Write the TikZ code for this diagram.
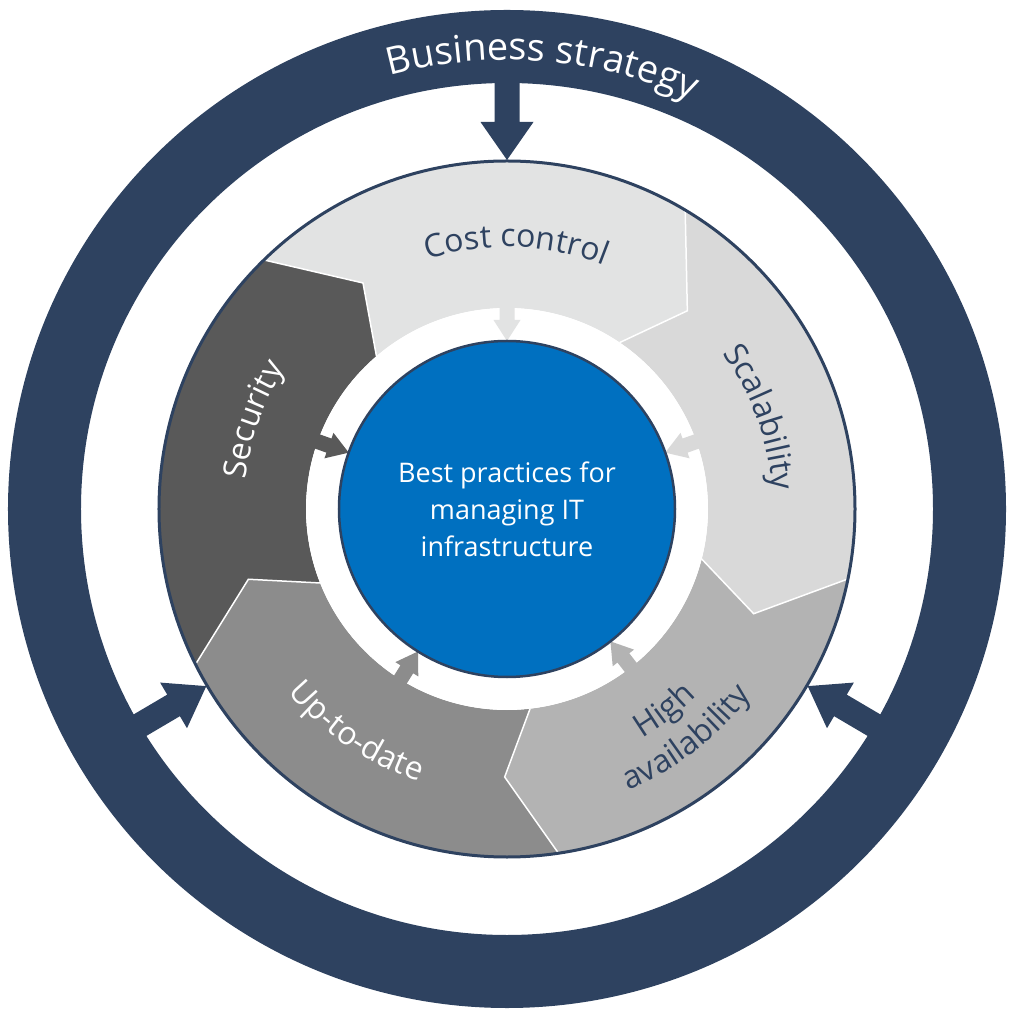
\documentclass[tikz,border=0pt]{standalone}
\usepackage{fontspec}
\setmainfont{Open Sans}
\usetikzlibrary{decorations.text}
\definecolor{navy}{HTML}{2E4260}
\definecolor{blueC}{HTML}{0070C0}
\definecolor{segA}{HTML}{E2E3E3}
\definecolor{segB}{HTML}{D9D9D9}
\definecolor{segC}{HTML}{B3B3B3}
\definecolor{segD}{HTML}{8C8C8C}
\definecolor{segE}{HTML}{595959}
\newcommand{\lblfont}{\fontsize{32}{32}\selectfont}
\newcommand{\titlefont}{\fontsize{38}{38}\selectfont}
\tikzset{
  seglabel/.style={decorate, decoration={text along path, text align=center, text={#1}}},
  bigarrow/.style={fill=navy},
  segline/.style={draw=white, line width=1.5pt},
}
\begin{document}
\begin{tikzpicture}[x=1pt,y=1pt]
\useasboundingbox (-507,-515) rectangle (506,509);
% outer strategy ring
\fill[navy,even odd rule] (0,0) circle[radius=499] (0,0) circle[radius=426];
% segments
\fill[segA] (134.3:348) arc[start angle=134.3,end angle=59.2,radius=348] -- (47.7:268) -- (55.9:201) arc[start angle=55.9,end angle=130.5,radius=201] -- (122.5:268) -- cycle;
\fill[segB] (59.2:348) arc[start angle=59.2,end angle=-11.6,radius=348] -- (-23:268) -- (-14.4:201) arc[start angle=-14.4,end angle=55.9,radius=201] -- (47.7:268) -- cycle;
\fill[segC] (-11.6:348) arc[start angle=-11.6,end angle=-81.5,radius=348] -- (-90.5:268) -- (-83.4:201) arc[start angle=-83.4,end angle=-14.4,radius=201] -- (-23:268) -- cycle;
\fill[segD] (-81.5:348) arc[start angle=-81.5,end angle=-153.5,radius=348] -- (-164.8:268) -- (-158.4:201) arc[start angle=-158.4,end angle=-83.4,radius=201] -- (-90.5:268) -- cycle;
\fill[segE] (206.5:348) arc[start angle=206.5,end angle=134.3,radius=348] -- (122.5:268) -- (130.5:201) arc[start angle=130.5,end angle=201.6,radius=201] -- (195.2:268) -- cycle;
% segment boundaries
\draw[segline] (134.3:348) -- (122.5:268) -- (130.5:201);
\draw[segline] (59.2:348) -- (47.7:268) -- (55.9:201);
\draw[segline] (-11.6:348) -- (-23:268) -- (-14.4:201);
\draw[segline] (-81.5:348) -- (-90.5:268) -- (-83.4:201);
\draw[segline] (206.5:348) -- (195.2:268) -- (201.6:201);
\draw[navy, line width=3pt] (0,0) circle[radius=348];
% white ring round the core
\fill[white] (0,0) circle[radius=201];
% small arrows into the core
\foreach \a/\c in {90/segA, 19.6/segB, -52/segC, -122/segD, 160.4/segE}{
  \fill[\c, rotate=\a] (168,0) -- (189,13.5) -- (189,7.5) -- (214,7.5) -- (214,-7.5) -- (189,-7.5) -- (189,-13.5) -- cycle;
}
% core
\node[name=core, circle, minimum size=336pt, fill=blueC, draw=navy, line width=2.5pt, inner sep=0pt] at (0,0) {};
\node[name=coretext, align=center, text=white, font=\fontsize{27}{37}\selectfont] at (0,0) {Best practices for\\managing IT\\infrastructure};
% big arrows from strategy ring
\foreach \a in {90, 210.5, -30.5}{
  \fill[bigarrow, rotate=\a] (349,0) -- (387,26.5) -- (387,12.5) -- (440,12.5) -- (440,-12.5) -- (387,-12.5) -- (387,-26.5) -- cycle;
}
% labels
\path[seglabel={|\color{white}\titlefont|Business strategy}] (125.4:449) arc[start angle=125.4,end angle=45.4,radius=449];
\path[seglabel={|\color{navy}\lblfont|Cost control}] (128:262) arc[start angle=128,end angle=48,radius=262];
\path[seglabel={|\color{navy}\lblfont|Scalability}] (59.9:266) arc[start angle=59.9,end angle=-20.1,radius=266];
\path[seglabel={|\color{white}\lblfont|Security}] (200.6:263) arc[start angle=200.6,end angle=120.6,radius=263];
\path[seglabel={|\color{white}\lblfont|Up-to-date}] (196:286) arc[start angle=196,end angle=276,radius=286];
\path[seglabel={|\color{navy}\lblfont|High}] (-92:266) arc[start angle=-92,end angle=-12,radius=266];
\path[seglabel={|\color{navy}\lblfont|availability}] (-92:307) arc[start angle=-92,end angle=-12,radius=307];
\end{tikzpicture}
\end{document}
